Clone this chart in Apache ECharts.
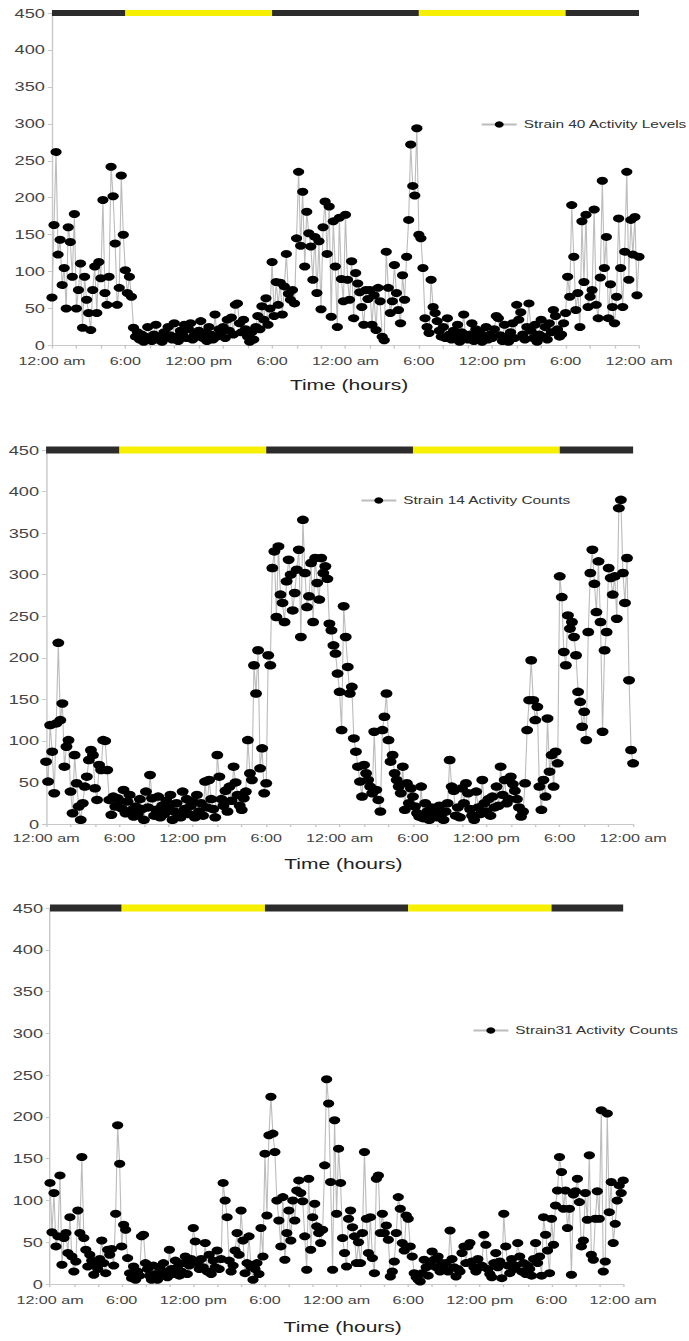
<!DOCTYPE html>
<html>
<head>
<meta charset="utf-8">
<script src="https://cdn.jsdelivr.net/npm/echarts@6/dist/echarts.min.js"></script>
<style>
  html, body { margin: 0; padding: 0; background: #fff; overflow: hidden; }
  /* the source figure is stretched sideways, so the chart is drawn narrow and widened */
  #main { width: 492px; height: 1341px; transform: scaleX(1.4004); transform-origin: 0 0; }
</style>
</head>
<body>
<div id="main"></div>
<script>
// activity counts every 10 minutes, 0 h .. 48 h
const strain40 = [
  65, 163, 262, 123, 143, 82,
  105, 50, 160, 140, 93, 178,
  50, 75, 111, 24, 93, 62,
  44, 21, 75, 107, 44, 113,
  91, 197, 71, 55, 93, 242,
  202, 138, 55, 78, 230, 150,
  102, 71, 93, 66, 24, 12,
  18, 8, 15, 5, 12, 25,
  10, 6, 15, 28, 8, 12,
  5, 18, 10, 25, 14, 8,
  30, 12, 6, 20, 15, 28,
  10, 22, 30, 8, 15, 12,
  20, 33, 10, 18, 6, 25,
  15, 8, 42, 12, 22, 18,
  25, 10, 35, 20, 38, 15,
  55, 57, 30, 18, 35, 22,
  12, 5, 18, 8, 25, 40,
  22, 53, 35, 64, 28, 50,
  113, 40, 86, 55, 85, 42,
  80, 124, 70, 62, 75, 57,
  145, 235, 135, 208, 107, 181,
  152, 134, 89, 147, 71, 141,
  49, 160, 195, 124, 188, 39,
  168, 107, 25, 173, 90, 60,
  177, 89, 62, 114, 37, 98,
  84, 72, 52, 28, 75, 63,
  75, 28, 68, 21, 78, 60,
  12, 7, 127, 78, 44, 60,
  109, 71, 48, 30, 95, 62,
  120, 170, 272, 216, 203, 294,
  150, 145, 105, 37, 25, 17,
  89, 52, 44, 33, 20, 12,
  25, 10, 37, 15, 8, 20,
  12, 28, 5, 18, 42, 10,
  8, 15, 30, 6, 22, 12,
  18, 5, 12, 25, 8, 15,
  10, 22, 40, 37, 14, 6,
  28, 12, 5, 18, 30, 10,
  55, 35, 45, 15, 8, 25,
  57, 20, 10, 28, 5, 15,
  35, 12, 25, 8, 30, 18,
  48, 40, 22, 12, 15, 30,
  44, 93, 66, 190, 120, 48,
  71, 25, 168, 86, 177, 52,
  66, 75, 184, 55, 37, 92,
  223, 105, 147, 37, 83, 52,
  30, 66, 172, 105, 52, 127,
  235, 89, 170, 123, 174, 68,
  120
]

const strain14 = [
  75, 51, 119, 87, 37, 121,
  218, 125, 145, 69, 93, 101,
  39, 13, 83, 49, 21, 5,
  25, 45, 57, 77, 89, 83,
  43, 29, 71, 65, 101, 100,
  65, 29, 11, 33, 21, 31,
  28, 19, 41, 13, 27, 35,
  17, 9, 21, 12, 30, 18,
  5, 39, 20, 59, 31, 10,
  17, 33, 8, 22, 12, 28,
  20, 35, 5, 15, 25, 10,
  8, 39, 18, 30, 12, 22,
  27, 8, 35, 15, 25, 10,
  51, 20, 53, 30, 18, 8,
  83, 57, 30, 22, 40, 15,
  45, 28, 69, 50, 35, 22,
  17, 31, 39, 101, 61, 53,
  191, 157, 209, 67, 91, 37,
  49, 203, 191, 308, 328, 249,
  334, 276, 266, 243, 292, 318,
  300, 257, 278, 306, 330, 225,
  366, 302, 261, 274, 314, 243,
  320, 290, 270, 320, 302, 310,
  295, 241, 233, 215, 205, 181,
  159, 113, 262, 225, 189, 157,
  165, 103, 87, 69, 51, 33,
  71, 61, 53, 45, 37, 111,
  41, 29, 15, 113, 129, 157,
  101, 75, 83, 61, 53, 45,
  37, 69, 17, 49, 25, 43,
  33, 21, 13, 9, 45, 7,
  25, 15, 5, 20, 10, 18,
  8, 22, 12, 5, 15, 25,
  77, 45, 40, 10, 20, 8,
  43, 25, 49, 37, 18, 10,
  5, 39, 20, 12, 53, 25,
  15, 30, 10, 33, 20, 45,
  22, 69, 35, 53, 25, 30,
  57, 48, 40, 30, 20, 9,
  15, 49, 113, 149, 197, 149,
  125, 141, 45, 17, 53, 33,
  127, 63, 83, 45, 87, 73,
  298, 273, 207, 191, 251, 235,
  243, 225, 203, 159, 147, 117,
  135, 101, 231, 302, 330, 289,
  255, 316, 243, 111, 209, 231,
  308, 296, 276, 298, 247, 380,
  390, 302, 266, 320, 173, 89,
  73
]

const strain31 = [
  121, 62, 109, 45, 57, 130,
  23, 55, 61, 37, 80, 33,
  15, 27, 88, 61, 152, 55,
  41, 21, 35, 28, 11, 22,
  18, 30, 52, 25, 13, 41,
  35, 42, 22, 84, 190, 144,
  45, 71, 65, 31, 13, 7,
  21, 5, 15, 10, 57, 59,
  25, 18, 10, 5, 22, 12,
  5, 20, 12, 25, 15, 8,
  41, 18, 12, 28, 20, 10,
  15, 25, 33, 12, 22, 30,
  67, 51, 25, 18, 30, 20,
  49, 15, 35, 12, 28, 20,
  40, 18, 30, 121, 100, 80,
  28, 15, 22, 40, 61, 35,
  88, 52, 13, 25, 57, 20,
  5, 18, 25, 12, 67, 33,
  156, 82, 178, 224, 180, 158,
  100, 76, 45, 104, 29, 61,
  88, 52, 100, 76, 112, 124,
  109, 99, 57, 17, 126, 41,
  80, 96, 69, 61, 49, 65,
  142, 245, 216, 122, 17, 196,
  84, 162, 121, 55, 37, 21,
  78, 88, 68, 57, 25, 50,
  25, 61, 158, 78, 37, 80,
  31, 13, 126, 130, 61, 84,
  61, 70, 53, 9, 15, 27,
  61, 104, 90, 49, 40, 82,
  78, 45, 33, 13, 8, 5,
  3, 13, 29, 20, 10, 22,
  39, 29, 20, 33, 15, 25,
  18, 25, 15, 64, 30, 20,
  9, 18, 15, 37, 45, 25,
  45, 49, 27, 20, 15, 30,
  20, 22, 59, 47, 18, 12,
  8, 25, 37, 20, 27, 7,
  84, 45, 22, 13, 30, 18,
  22, 49, 33, 15, 25, 12,
  22, 18, 10, 30, 49, 25,
  33, 10, 80, 59, 40, 13,
  78, 47, 94, 112, 152, 134,
  90, 112, 67, 90, 11, 107,
  111, 126, 98, 45, 52, 109,
  77, 154, 35, 29, 78, 111,
  78, 208, 15, 27, 204, 86,
  122, 49, 72, 100, 118, 109,
  124
]

const seriesNames = ['Strain 40 Activity Levels', 'Strain 14 Activity Counts', 'Strain31 Activity Counts']

// light / dark phases drawn as the bar on top (hours)
const lightPhases = [
  { from: 0, to: 6, light: false },
  { from: 6, to: 18, light: true },
  { from: 18, to: 30, light: false },
  { from: 30, to: 42, light: true },
  { from: 42, to: 48, light: false }
]

// one label every 6 hours
const timeTickLabels = ['12:00 am', '6:00', '12:00 pm', '6:00', '12:00 am', '6:00', '12:00 pm', '6:00', '12:00 am']

const font = 'Liberation Sans, Arial, sans-serif'

const panels = [
  { values: strain40, grid: { left: 37.1, top: 13, width: 419.2, height: 332.5 }, labelGap: 9,
    legend: { left: 343, top: 119 }, title: { left: 207, top: 377 }, barWidth: 6, dot: 8 },
  { values: strain14, grid: { left: 32.9, top: 450, width: 419.2, height: 374 }, labelGap: 8,
    legend: { left: 257, top: 495 }, title: { left: 203, top: 856 }, barWidth: 7, dot: 8.5 },
  { values: strain31, grid: { left: 35.7, top: 908, width: 409.3, height: 376 }, labelGap: 10,
    legend: { left: 337, top: 1025 }, title: { left: 202.5, top: 1319 }, barWidth: 7, dot: 8 }
]

const chart = echarts.init(document.getElementById('main'), null, { renderer: 'svg' })

const grids = []
const xAxes = []
const yAxes = []
const legends = []
const titles = []
const series = []

panels.forEach((p, k) => {
  grids.push(p.grid)
  xAxes.push({
    type: 'value', gridIndex: k, min: 0, max: 48, interval: 2,
    axisLine: { lineStyle: { color: '#c8c8c8', width: 1 } },
    axisTick: { show: true, length: 3, lineStyle: { color: '#c8c8c8' } },
    splitLine: { show: false },
    axisLabel: {
      color: '#444', fontSize: 11.5, fontFamily: font, margin: p.labelGap,
      showMinLabel: true, showMaxLabel: true,
      formatter: v => (v % 6 === 0 ? timeTickLabels[v / 6] : '')
    }
  })
  yAxes.push({
    type: 'value', gridIndex: k, min: 0, max: 450, interval: 50,
    axisLine: { show: true, lineStyle: { color: '#c8c8c8', width: 1 } },
    axisTick: { show: true, length: 3, lineStyle: { color: '#c8c8c8' } },
    splitLine: { show: false },
    axisLabel: { color: '#444', fontSize: 13, fontFamily: font, margin: 5 }
  })
  legends.push({
    data: [seriesNames[k]], left: p.legend.left, top: p.legend.top, padding: 0,
    itemWidth: 25, itemHeight: 8, itemGap: 0,
    textStyle: { color: '#333', fontSize: 11, fontFamily: font }
  })
  titles.push({
    text: 'Time (hours)', left: p.title.left, top: p.title.top, padding: 0,
    textStyle: { color: '#222', fontSize: 15, fontWeight: 'normal', fontFamily: font }
  })
  series.push({
    name: seriesNames[k], type: 'line', xAxisIndex: k, yAxisIndex: k,
    data: p.values.map((v, i) => [i / 6, v]),
    symbol: 'circle', symbolSize: p.dot, showAllSymbol: true,
    itemStyle: { color: '#000' },
    lineStyle: { color: '#bcbcbc', width: 0.8 },
    z: 4
  })
  lightPhases.forEach(ph => {
    series.push({
      type: 'line', xAxisIndex: k, yAxisIndex: k, silent: true, clip: false,
      data: [[ph.from, 450], [ph.to, 450]],
      symbol: 'none',
      lineStyle: { color: ph.light ? '#f6f000' : '#2c2c2c', width: p.barWidth, cap: 'butt' },
      z: 3
    })
  })
})

chart.setOption({
  animation: false,
  backgroundColor: '#fff',
  grid: grids,
  xAxis: xAxes,
  yAxis: yAxes,
  legend: legends,
  title: titles,
  series: series
})

window.addEventListener('resize', () => chart.resize())
</script>
</body>
</html>
